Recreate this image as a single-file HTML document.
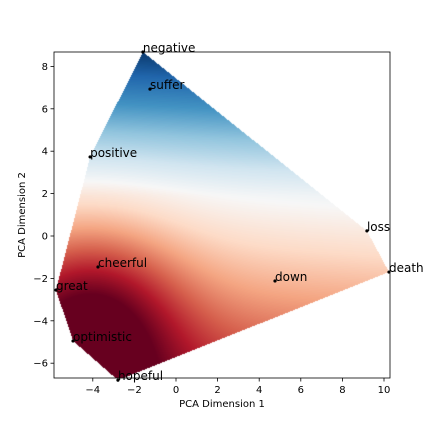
<!DOCTYPE html>
<html><head><meta charset="utf-8"><style>
body{margin:0;background:#fff;}
#wrap{position:relative;width:432px;height:432px;font-family:"DejaVu Sans","Liberation Sans",sans-serif;}
canvas{position:absolute;left:0;top:0;}
svg{position:absolute;left:0;top:0;}
</style></head><body>
<div id="wrap">
<canvas id="cv" width="432" height="432"></canvas>
<svg id="sv" width="432" height="432"></svg>
</div>
<script>
const words = ["negative","suffer","positive","loss","death","down","cheerful","great","optimistic","hopeful"];
const xs = [-1.59,-1.25,-4.13,9.18,10.24,4.76,-3.75,-5.77,-4.95,-2.79];
const ys = [8.68,6.93,3.73,0.24,-1.7,-2.12,-1.46,-2.55,-4.95,-6.8];
const xTicks = [-4,-2,0,2,4,6,8,10];
const yTicks = [-6,-4,-2,0,2,4,6,8];

const L=54,R=390,T=52,B=378;
const sx = v => 176 + 20.8*v;
const sy = v => 236 - 21.2*v;
const ix = p => (p-176)/20.8;
const iy = p => (236-p)/21.2;

const stops=[[103,0,31],[178,24,43],[214,96,77],[244,165,130],[253,219,199],[247,247,247],[209,229,240],[146,197,222],[67,147,195],[33,102,172],[5,48,97]];
function cmap(t){t=Math.max(0,Math.min(1,t))*10;const i=Math.min(9,Math.floor(t)),f=t-i;const a=stops[i],b=stops[i+1];return [a[0]+(b[0]-a[0])*f,a[1]+(b[1]-a[1])*f,a[2]+(b[2]-a[2])*f];}
function field(x,y){const dy=y-1.9;return 0.5+(dy>0?0.072:0.045)*dy+0.003*x-0.3*Math.exp(-((x+4)**2)/(2*9)-((y+4)**2)/(2*10.24));}

const pts = xs.map((x,i)=>[sx(x),sy(ys[i])]);
function hull(P){P=P.slice().sort((a,b)=>a[0]-b[0]||a[1]-b[1]);const cr=(o,a,b)=>(a[0]-o[0])*(b[1]-o[1])-(a[1]-o[1])*(b[0]-o[0]);const lo=[],up=[];for(const p of P){while(lo.length>=2&&cr(lo[lo.length-2],lo[lo.length-1],p)<=0)lo.pop();lo.push(p);}for(let i=P.length-1;i>=0;i--){const p=P[i];while(up.length>=2&&cr(up[up.length-2],up[up.length-1],p)<=0)up.pop();up.push(p);}up.pop();lo.pop();return lo.concat(up);}
const H = hull(pts);
function inside2(x,y){let pos=0,neg=0;for(let i=0;i<H.length;i++){const a=H[i],b=H[(i+1)%H.length];const c=(b[0]-a[0])*(y-a[1])-(b[1]-a[1])*(x-a[0]);if(c>0)pos++;else if(c<0)neg++;}return pos===0||neg===0;}

const cv=document.getElementById('cv'),ctx=cv.getContext('2d');
const img=ctx.createImageData(432,432);
for(let py=T;py<B;py++)for(let px=L;px<R;px++){
  if(!inside2(px+0.5,py+0.5))continue;
  const c=cmap(field(ix(px+0.5),iy(py+0.5)));const k=(py*432+px)*4;
  img.data[k]=c[0];img.data[k+1]=c[1];img.data[k+2]=c[2];img.data[k+3]=255;
}
ctx.putImageData(img,0,0);

const NS="http://www.w3.org/2000/svg";
const sv=document.getElementById('sv');
function mk(tag,attrs,txt){const e=document.createElementNS(NS,tag);for(const k in attrs)e.setAttribute(k,attrs[k]);if(txt!==undefined)e.textContent=txt;sv.appendChild(e);return e;}

let fr=mk('rect',{x:L,y:T,width:R-L,height:B-T,fill:'none',stroke:'#000','stroke-width':0.8});



xTicks.forEach(v=>{
  const x=sx(v);
  let l=mk('line',{x1:x,x2:x,y1:B,y2:B+3.5,stroke:'#000','stroke-width':0.8});
  
  
  let t=mk('text',{x:x,y:B+15,'font-size':10,'text-anchor':'middle',fill:'#000'},v<0?'\u2212'+(-v):String(v));
  
  
});
yTicks.forEach(v=>{
  const y=sy(v);
  let l=mk('line',{x1:L-3.5,x2:L,y1:y,y2:y,stroke:'#000','stroke-width':0.8});
  
  
  let t=mk('text',{x:L-6,y:y+3.5,'font-size':10,'text-anchor':'end',fill:'#000'},v<0?'\u2212'+(-v):String(v));
  
  
});
let xt=mk('text',{x:222,y:407,'font-size':10,'text-anchor':'middle'},'PCA Dimension 1');


let yt=mk('text',{x:0,y:0,'font-size':10,'text-anchor':'middle',transform:'translate(25,215) rotate(-90)'},'PCA Dimension 2');



words.forEach((w,i)=>{
  const x=sx(xs[i]),y=sy(ys[i]);
  let c=mk('circle',{cx:x,cy:y,r:1.6,fill:'#000'});
  
  
  let t=mk('text',{x:x,y:y,'font-size':12,fill:'#000'},w);
  
  
});
</script>
</body></html>
